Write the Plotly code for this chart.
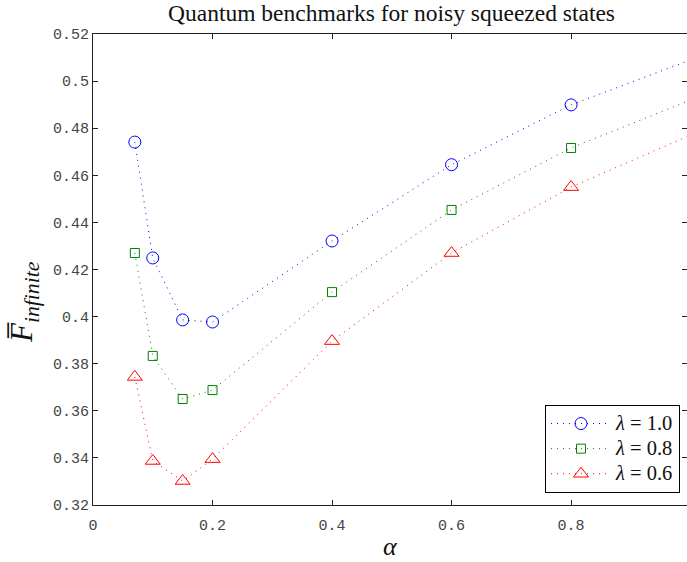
import plotly.graph_objects as go

alpha = [0.07, 0.1, 0.15, 0.2, 0.4, 0.6, 0.8, 1.0]
f_lam10 = [0.4741, 0.4249, 0.3986, 0.3977, 0.4321, 0.4645, 0.4899, 0.5090]
f_lam08 = [0.4270, 0.3833, 0.3650, 0.3688, 0.4104, 0.4453, 0.4716, 0.4920]
f_lam06 = [0.3744, 0.3387, 0.3302, 0.3395, 0.3896, 0.4270, 0.4550, 0.4771]

series_names = ["<i>λ</i> = 1.0", "<i>λ</i> = 0.8", "<i>λ</i> = 0.6"]
series_colors = ["#0000ff", "#008000", "#ff0000"]
series_symbols = ["circle-open", "square-open", "triangle-up-open"]
series_sizes = [12, 9, 13]

x_ticks = [0, 0.2, 0.4, 0.6, 0.8, 1.0]
x_ticktext = ["0", "0.2", "0.4", "0.6", "0.8", "1"]
y_ticks = [0.32, 0.34, 0.36, 0.38, 0.40, 0.42, 0.44, 0.46, 0.48, 0.50, 0.52]
y_ticktext = ["0.32", "0.34", "0.36", "0.38", "0.4", "0.42", "0.44", "0.46", "0.48", "0.5", "0.52"]

serif = "Liberation Serif, Times New Roman, serif"
mono = "Liberation Mono, Courier New, monospace"

fig = go.Figure()
for ys, name, col, sym, sz in zip([f_lam10, f_lam08, f_lam06], series_names,
                                  series_colors, series_symbols, series_sizes):
    fig.add_trace(go.Scatter(
        x=alpha, y=ys, name='<span style="font-size:20.5px">' + name + '</span>',
        mode="lines+markers",
        line=dict(color=col, width=1, dash="1px,5px"),
        marker=dict(symbol=sym, size=sz, color=col, line=dict(width=1, color=col)),
        cliponaxis=False,
    ))

# invisible trace for right-side mirrored ticks
fig.add_trace(go.Scatter(x=[alpha[0]], y=[f_lam10[0]], yaxis="y2", showlegend=False,
                         mode="markers", marker=dict(opacity=0), hoverinfo="skip"))

fig.update_layout(
    width=687, height=562,
    margin=dict(l=93, r=0, t=34, b=57),
    paper_bgcolor="white", plot_bgcolor="white",
    title=dict(text="Quantum benchmarks for noisy squeezed states",
               font=dict(family=serif, size=23.5, color="#111"),
               x=(93 + 690) / 2 / 687, xanchor="center", y=0.978, yanchor="middle"),
    xaxis=dict(range=[0, 0.994], tickvals=x_ticks, ticktext=x_ticktext,
               ticks="inside", ticklen=5, tickcolor="#222",
               showline=True, linecolor="#222", linewidth=1, mirror="ticks",
               showgrid=False, zeroline=False, ticklabelstandoff=6,
               tickfont=dict(family=mono, size=15, color="#444")),
    yaxis=dict(range=[0.32, 0.52], tickvals=y_ticks, ticktext=y_ticktext,
               ticks="inside", ticklen=5, tickcolor="#222",
               showline=True, linecolor="#222", linewidth=1,
               showgrid=False, zeroline=False,
               tickfont=dict(family=mono, size=15, color="#444")),
    yaxis2=dict(overlaying="y", side="right", range=[0.32, 0.52], tickvals=y_ticks,
                ticks="inside", ticklen=5, tickcolor="#222", showticklabels=False,
                showline=False, showgrid=False, zeroline=False),
    legend=dict(x=(680 - 93) / 594, xanchor="right", y=(505 - 493) / 471, yanchor="bottom",
                bordercolor="black", borderwidth=1, bgcolor="white",
                font=dict(family=serif, size=17, color="#111"),
                tracegroupgap=0, itemwidth=60),
    annotations=[
        dict(text="<i>α</i>", xref="paper", yref="paper",
             x=(390 - 93) / 594, y=(505 - 546) / 471, showarrow=False,
             xanchor="center", yanchor="middle",
             font=dict(family=serif, size=26, color="#111")),
        dict(text="<i>F̅</i><sub><i>infinite</i></sub>", xref="paper", yref="paper",
             x=(24 - 93) / 594, y=(505 - 302) / 471, showarrow=False, textangle=-90,
             xanchor="center", yanchor="middle",
             font=dict(family=serif, size=31, color="#111")),
    ],
    showlegend=True,
)

fig.write_html("out.html", config={"displayModeBar": False},
               post_script="document.body.style.margin='0';document.body.style.padding='0';")
